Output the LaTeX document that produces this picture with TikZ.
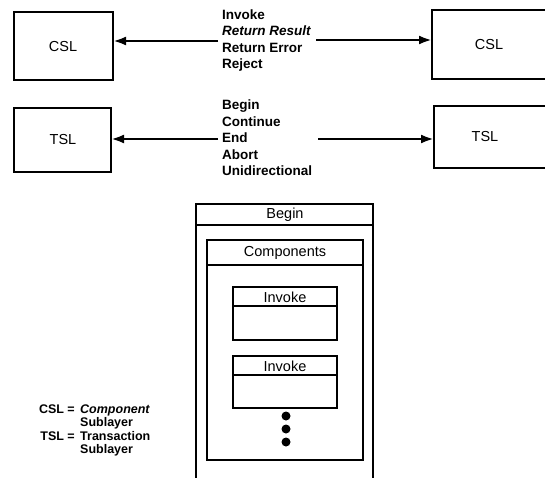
\documentclass[tikz,border=0pt]{standalone}
\usepackage{fontspec}
\setmainfont{Liberation Sans}
\usetikzlibrary{arrows.meta}
\tikzset{
  box/.style={draw, line width=2.2pt, inner sep=0pt},
  boxlabel/.style={font=\fontsize{14.5}{16}\selectfont, inner sep=0pt},
  primlabel/.style={font=\bfseries\fontsize{13.5}{16}\selectfont, anchor=base west, inner sep=0pt},
  arrowline/.style={line width=2.8pt, -{Latex[length=13pt,width=9pt]}},
  rule/.style={line width=2pt},
  fieldlabel/.style={font=\fontsize{14.5}{16}\selectfont, inner sep=0pt},
  legend/.style={font=\bfseries\fontsize{12.5}{14}\selectfont, inner sep=0pt, anchor=base west},
  dot/.style={circle, fill=black, inner sep=0pt, minimum size=9pt}
}
\begin{document}
\begin{tikzpicture}[x=1pt,y=-1pt]
\clip (0,0) rectangle (545,478);
\fill[white] (0,0) rectangle (545,478);

% Component sublayer boxes
\draw[box] (14,12) rectangle (113,80);
\coordinate (cslLE) at (113,41);
\node[boxlabel] (cslL) at (63,47) {CSL};
\draw[box] (432,10) rectangle (580,79);
\coordinate (cslRW) at (432,40);
\node[boxlabel] (cslR) at (489,45) {CSL};

% Transaction sublayer boxes
\draw[box] (14,108) rectangle (111,172);
\coordinate (tslLE) at (111,139);
\node[boxlabel] (tslL) at (63,140) {TSL};
\draw[box] (434,106) rectangle (580,168);
\coordinate (tslRW) at (434,139);
\node[boxlabel] (tslR) at (485,137) {TSL};

% Component primitives
\node[primlabel] (p1) at (222,19.5) {Invoke};
\node[primlabel] (p2) at (222,36) {\itshape Return Result};
\node[primlabel] (p3) at (222,52.5) {Return Error};
\node[primlabel] (p4) at (222,69) {Reject};
\coordinate (cslA) at (218,41);
\coordinate (cslB) at (316,40);
\draw[arrowline] (cslA) -- (cslLE);
\draw[arrowline] (cslB) -- (cslRW);

% Transaction primitives
\node[primlabel] (t1) at (222,110) {Begin};
\node[primlabel] (t2) at (222,126.5) {Continue};
\node[primlabel] (t3) at (222,143) {End};
\node[primlabel] (t4) at (222,159.5) {Abort};
\node[primlabel] (t5) at (222,176) {Unidirectional};
\coordinate (tslA) at (218,139);
\coordinate (tslB) at (318,139);
\draw[arrowline] (tslA) -- (tslLE);
\draw[arrowline] (tslB) -- (tslRW);

% Begin message layout
\draw[line width=2.6pt] (196,490) -- (196,204) -- (373,204) -- (373,490);
\draw[rule] (196,225) -- (373,225);
\node[fieldlabel] (beg) at (285,214.5) {Begin};

\draw[box] (207,240) rectangle (363,460);
\draw[rule] (207,265) -- (363,265);
\node[fieldlabel] (comp) at (285,253) {Components};

\draw[box] (233,287) rectangle (337,340);
\draw[rule] (233,306) -- (337,306);
\node[fieldlabel] (inv1) at (285,297) {Invoke};

\draw[box] (233,356) rectangle (337,408);
\draw[rule] (233,375) -- (337,375);
\node[fieldlabel] (inv2) at (285,366) {Invoke};

\node[dot] (d1) at (286,416) {};
\node[dot] (d2) at (286,429) {};
\node[dot] (d3) at (286,442) {};

% Legend
\node[legend, anchor=base east] (l1) at (75,413) {CSL =};
\node[legend] (l1b) at (80,413) {\itshape Component};
\node[legend] (l2) at (80,426.5) {Sublayer};
\node[legend, anchor=base east] (l3) at (75,440) {TSL =};
\node[legend] (l3b) at (80,440) {Transaction};
\node[legend] (l4) at (80,453.5) {Sublayer};
\end{tikzpicture}
\end{document}
